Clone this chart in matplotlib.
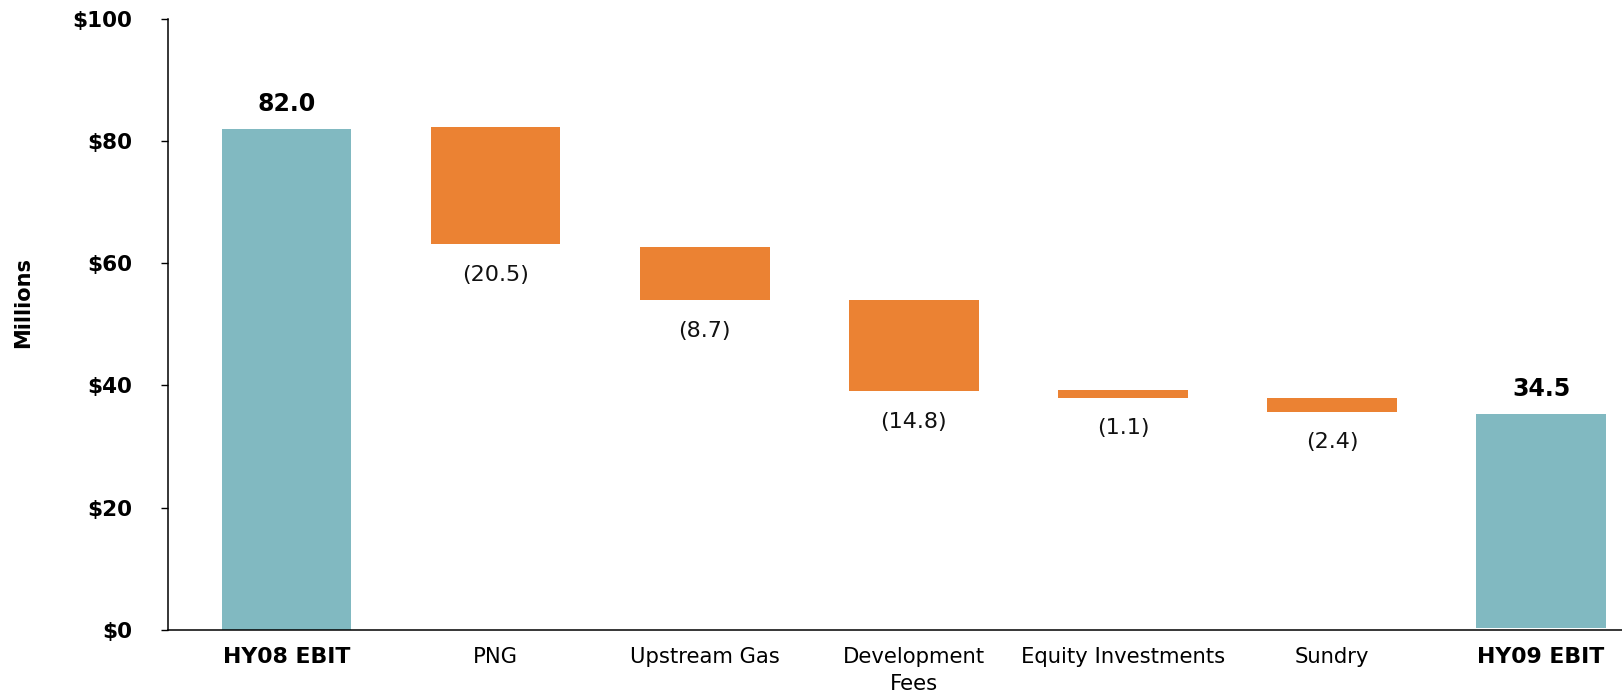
import matplotlib
matplotlib.use("Agg")
import matplotlib.pyplot as plt

# waterfall: HY08 EBIT -> HY09 EBIT ($ millions)
categories = ["HY08 EBIT", "PNG", "Upstream Gas", "Development\nFees",
              "Equity Investments", "Sundry", "HY09 EBIT"]
bar_bottom = [0.0, 63.1, 53.9, 39.1, 38.0, 35.7, 0.4]
bar_top = [82.0, 82.3, 62.6, 54.0, 39.3, 37.9, 35.3]
value_labels = ["82.0", "(20.5)", "(8.7)", "(14.8)", "(1.1)", "(2.4)", "34.5"]
is_total = [True, False, False, False, False, False, True]
yticks = [0, 20, 40, 60, 80, 100]

teal = "#81B9C1"
orange = "#EB8233"

fig = plt.figure(figsize=(16.22, 6.96), dpi=100)
ax = fig.add_axes([0.1036, 0.0948, 1 - 0.1036, 0.9733 - 0.0948])

x = list(range(len(categories)))
heights = [t - b for t, b in zip(bar_top, bar_bottom)]
colors = [teal if tot else orange for tot in is_total]
ax.bar(x, heights, bottom=bar_bottom, width=0.62, color=colors, zorder=2)

for i in x:
    if is_total[i]:
        ax.annotate(value_labels[i], (i, bar_top[i]), xytext=(0, 18),
                    textcoords="offset points", ha="center", va="center",
                    fontsize=17, fontweight="bold", color="black")
    else:
        ax.annotate(value_labels[i], (i, bar_bottom[i]), xytext=(0, -22),
                    textcoords="offset points", ha="center", va="center",
                    fontsize=16, color="#111111")

ax.set_xlim(-0.567, 6.387)
ax.set_ylim(0, 100)
ax.set_yticks(yticks)
ax.set_yticklabels(["$%d" % v for v in yticks], fontsize=15.5, fontweight="bold")
ax.set_xticks(x)
ax.set_xticklabels(categories, fontsize=15.2, linespacing=1.4)
for lbl, tot in zip(ax.get_xticklabels(), is_total):
    if tot:
        lbl.set_fontweight("bold")
        lbl.set_fontsize(15.8)

ax.tick_params(axis="x", length=0, pad=12.5)
ax.tick_params(axis="y", direction="out", length=5, width=1, pad=21)

for s in ["top", "right"]:
    ax.spines[s].set_visible(False)
for s in ["left", "bottom"]:
    ax.spines[s].set_color("black")
    ax.spines[s].set_linewidth(1.1)

fig.text(23 / 1622, 1 - 302 / 696, "Millions", rotation=90, ha="center",
         va="center", fontsize=15, fontweight="bold")

fig.savefig("out.png", dpi=100)
